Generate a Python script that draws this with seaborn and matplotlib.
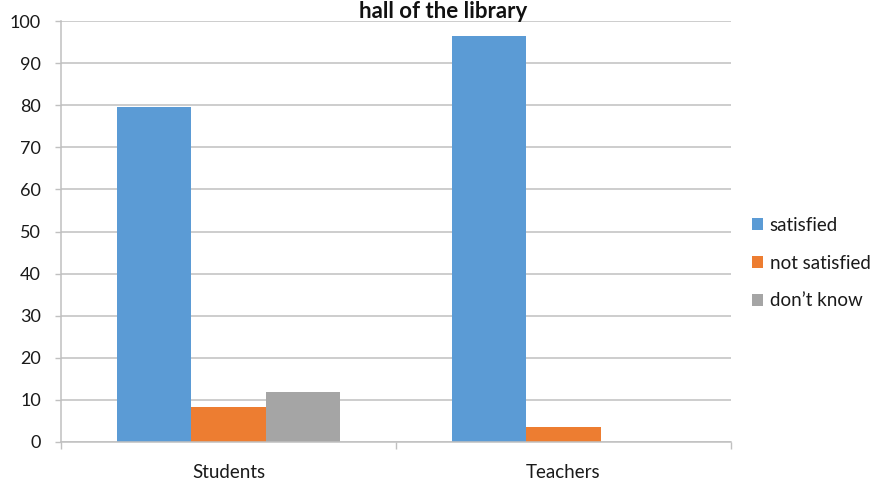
import numpy as np
import pandas as pd
import matplotlib
matplotlib.use("Agg")
import matplotlib.pyplot as plt
import seaborn as sns

# --- data ---
groups = ["Students", "Teachers"]
answers = ["satisfied", "not satisfied", "don\u2019t know"]
students = [79.5, 8.3, 11.9]
teachers = [96.4, 3.6, 0.0]
colors = ["#5B9BD5", "#ED7D31", "#A5A5A5"]
yticks = list(range(0, 101, 10))

df = pd.DataFrame({
    "group": [g for g in groups for _ in answers],
    "answer": answers * len(groups),
    "value": students + teachers,
})

sns.set_theme(style="white")
plt.rcParams["font.family"] = ["Lato", "DejaVu Sans"]

grid_c = "#C0C0C0"
txt_c = "#1a1a1a"
fig = plt.figure(figsize=(8.74, 4.82), dpi=100)
ax = fig.add_axes([61 / 874, 40 / 482, 670 / 874, 421 / 482])

sns.barplot(data=df, x="group", y="value", hue="answer", hue_order=answers,
            order=groups, palette=colors, width=2 / 3, saturation=1,
            edgecolor="none", linewidth=0, ax=ax)

ax.set_xlim(-0.5, 1.5)
ax.set_ylim(0, 100)
ax.set_yticks(yticks)
ax.set_xlabel("")
ax.set_ylabel("")
ax.yaxis.grid(True, color=grid_c, linewidth=1.1)
ax.set_axisbelow(True)

for s in ["top", "right"]:
    ax.spines[s].set_visible(False)
for s in ["left", "bottom"]:
    ax.spines[s].set_color(grid_c)
    ax.spines[s].set_linewidth(1.1)

# category boundary marks below the axis, labels centred without marks
ax.set_xticks([-0.5, 0.5, 1.5], minor=True)
ax.tick_params(axis="x", which="major", length=0, pad=15.5, labelsize=13.5, labelcolor=txt_c)
ax.tick_params(axis="x", which="minor", length=5, width=1, color=grid_c, direction="out", bottom=True)
ax.tick_params(axis="y", which="major", length=4.5, width=1, color=grid_c, pad=10,
               labelsize=13, labelcolor=txt_c, left=True)

leg = ax.legend(loc="center left", bbox_to_anchor=(1.02, 0.425), frameon=False,
                fontsize=13.5, handlelength=0.6, handleheight=0.6, handletextpad=0.35,
                labelspacing=1.1, borderaxespad=0)
for t in leg.get_texts():
    t.set_color(txt_c)

fig.text(0.507, 1 - 18 / 482, "hall of the library", ha="center", va="baseline",
         fontsize=16, fontweight="bold", color="#111111")

fig.savefig("out.png", dpi=100)
